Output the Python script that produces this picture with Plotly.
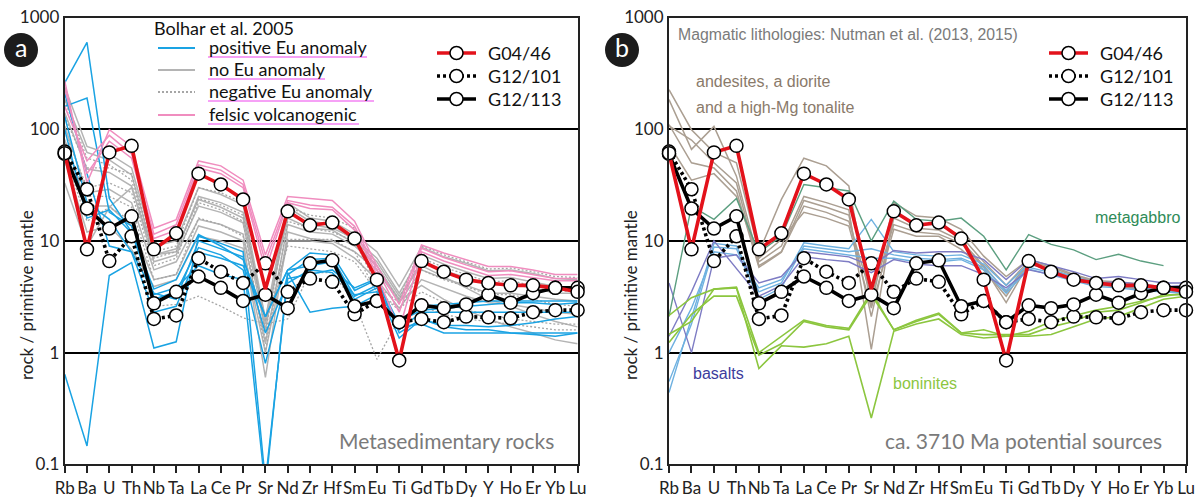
import plotly.graph_objects as go

# ---------------- data ----------------
ELEMENTS = ["Rb", "Ba", "U", "Th", "Nb", "Ta", "La", "Ce", "Pr", "Sr", "Nd", "Zr",
            "Hf", "Sm", "Eu", "Ti", "Gd", "Tb", "Dy", "Y", "Ho", "Er", "Yb", "Lu"]
Y_TICK_VALUES = [0.1, 1, 10, 100, 1000]
Y_TICK_LABELS = ["0.1", "1", "10", "100", "1000"]

G04_46 = [61, 8.4, 62, 71, 8.4, 11.7, 40, 32, 23.5, 3.7, 18.4, 13.8, 14.6, 10.5, 4.5, 0.85,
          6.6, 5.3, 4.5, 4.2, 4.0, 4.0, 3.8, 3.5]
G12_101 = [63, 29, 6.6, 11, 2.0, 2.15, 7.0, 5.3, 4.2, 6.3, 3.5, 4.6, 4.3, 2.2, 2.9, 1.87,
           2.0, 1.87, 2.1, 2.07, 2.03, 2.3, 2.4, 2.4]
G12_113 = [60, 19.5, 12.9, 16.6, 2.76, 3.5, 4.8, 3.8, 2.9, 3.3, 2.5, 6.3, 6.7, 2.6, 2.9, 1.87,
           2.65, 2.5, 2.7, 3.3, 2.8, 3.4, 3.8, 3.8]

# Bolhar et al. 2005 metasediments (panel a)
BOLHAR_POSITIVE_EU = [
    [260, 600, 24, 12, 3.7, 4.5, 11.4, 9, 6.8, 2.1, 5.5, 7.8, 7.5, 3.6, 4.5, 1.8, 2.6, 2.7, 2.8, 2.9, 2.9, 2.9, 2.9, 2.9],
    [160, 190, 18, 13.6, 3.0, 3.5, 8.7, 7.5, 5.5, 0.8, 5.0, 6.8, 7.0, 3.2, 4.0, 1.6, 2.3, 2.3, 2.3, 2.3, 2.3, 2.3, 2.3, 2.3],
    [0.64, 0.146, 4.9, 6.4, 1.1, 1.25, 11.0, 9.5, 8.0, 0.07, 4.6, 5.0, 5.5, 3.8, 4.6, 1.5, 2.0, 1.7, 1.6, 1.6, 1.5, 1.45, 1.4, 1.5],
    [130, 22, 15.6, 7.9, 2.3, 2.6, 7.9, 7.0, 6.0, 2.1, 5.5, 6.0, 6.5, 3.0, 3.8, 1.35, 2.0, 1.75, 1.75, 1.7, 1.75, 1.85, 2.0, 2.1],
    [100, 16, 19, 11.8, 3.3, 3.8, 6.0, 5.0, 4.5, 0.06, 5.2, 2.3, 2.5, 2.6, 3.3, 1.7, 1.8, 1.5, 1.5, 1.5, 1.5, 1.5, 1.5, 1.5],
    [210, 40, 9, 8, 3.4, 3.0, 10, 8.5, 7.2, 1.5, 4.2, 5.5, 5.2, 3.3, 3.5, 1.9, 2.4, 2.5, 2.6, 2.7, 2.8, 2.8, 2.7, 2.8],
]
BOLHAR_NO_EU = [
    [185, 62, 53, 39, 7.5, 8.5, 23.5, 20, 16, 2.0, 22, 16, 15, 11.5, 8.0, 3.9, 8.8, 7.2, 6.3, 5.4, 5.5, 5.1, 4.6, 4.5],
    [140, 44, 41, 31, 6.5, 7.5, 20.5, 18, 14.5, 1.6, 18, 14, 13, 10.5, 7.0, 3.4, 7.5, 6.2, 5.3, 4.6, 4.7, 4.3, 3.9, 3.8],
    [107, 27, 29, 22, 5.5, 6.5, 15.6, 14, 11.5, 1.2, 14, 12, 11.5, 9.0, 6.0, 3.0, 6.5, 5.4, 4.7, 4.0, 4.1, 3.8, 3.4, 3.4],
    [81, 20.5, 20.5, 13.6, 4.5, 5.0, 13.6, 12, 10, 0.6, 12, 10.5, 10, 8.0, 5.5, 2.8, 5.5, 4.6, 4.0, 3.4, 3.4, 3.2, 3.0, 2.9],
    [53, 12, 13.6, 8.4, 3.9, 4.5, 11, 10, 8.6, 1.0, 10, 10, 9.5, 7.0, 4.5, 2.5, 4.5, 3.8, 3.2, 2.8, 2.7, 2.5, 2.3, 2.2],
    [33, 9, 20, 30, 7.5, 8, 25, 22, 18, 1.8, 20, 15, 14, 10, 6.5, 3.2, 6.0, 4.8, 3.8, 3.0, 2.6, 2.2, 1.9, 1.7],
    [240, 70, 60, 45, 9, 10, 30, 26, 21, 2.0, 16, 13, 12.5, 9.5, 6.0, 2.9, 4.0, 3.0, 2.4, 2.0, 1.7, 1.5, 1.3, 1.2],
]
BOLHAR_NEGATIVE_EU = [
    [130, 45, 45, 40, 8, 9, 30, 27, 22, 1.5, 20, 17, 16, 13, 5.5, 3.0, 9.0, 7.5, 6.5, 5.6, 5.7, 5.3, 4.8, 4.7],
    [95, 30, 33, 27, 6, 7, 22, 19, 15, 1.0, 15, 13, 12, 10, 4.0, 2.8, 7.0, 5.8, 5.0, 4.3, 4.4, 4.0, 3.6, 3.5],
    [60, 15, 20, 15, 2.6, 2.7, 3.2, 2.6, 2.05, 1.8, 2.0, 5.2, 5.2, 2.8, 0.87, 2.0, 2.6, 2.2, 2.0, 1.9, 1.8, 1.7, 1.6, 1.6],
    [75, 25, 25, 20, 4.5, 5, 16, 14, 11, 1.3, 10.3, 10.3, 10.3, 8.0, 3.5, 2.4, 5.5, 4.5, 3.9, 3.3, 3.3, 3.0, 2.7, 2.6],
    [180, 55, 48, 35, 7, 8, 24, 21, 17, 1.9, 9, 8.5, 8, 6.5, 3.5, 2.5, 3.5, 2.8, 2.4, 2.2, 2.0, 1.9, 1.8, 1.8],
]
BOLHAR_FELSIC = [
    [270, 33, 99, 70, 13, 15.5, 52, 47, 35, 7.5, 25, 24, 23, 15, 6.0, 2.7, 9.2, 7.8, 6.8, 5.9, 5.9, 5.5, 5.0, 5.0],
    [160, 52, 88, 60, 11.5, 14, 48, 43, 32, 6.5, 23, 21, 20, 13.5, 5.5, 2.3, 8.6, 7.1, 6.1, 5.3, 5.4, 5.0, 4.6, 4.6],
    [230, 40, 78, 55, 10.5, 12.5, 45, 40, 30, 5.5, 22, 19.5, 19, 12.5, 5.0, 1.6, 8.0, 6.6, 5.7, 4.9, 5.0, 4.7, 4.4, 4.4],
]

# Nutman et al. (2013, 2015) magmatic lithologies (panel b)
NUTMAN_ANDESITES = [
    [226, 99, 62, 50, 7.9, 23.5, 55, 47, 31, 2.6, 22, 16.7, 16, 12.7, 7.3, 4.8, 6.8, 6.0, 5.0, 4.4, 4.3, 4.1, 3.8, 3.8],
    [184, 66, 106, 38, 6.5, 9, 25, 22, 19, 1.07, 18, 14, 14, 11, 6.5, 4.0, 6.6, 5.8, 4.9, 4.3, 4.1, 3.9, 3.7, 3.6],
    [107, 80, 50, 33, 6.0, 8, 23, 20, 17, 2.1, 16, 13, 12.5, 10, 6.0, 3.5, 6.5, 5.6, 4.7, 4.1, 4.0, 3.8, 3.6, 3.5],
    [110, 50, 45, 28, 5.8, 7.9, 20.5, 18, 15, 3.2, 14, 12, 11.5, 9.5, 5.8, 2.8, 6.3, 5.4, 4.6, 4.0, 3.9, 3.7, 3.5, 3.4],
    [73, 35, 40, 25, 7.0, 10.3, 18, 16, 13.6, 2.5, 12.7, 11, 11, 8.4, 5.5, 3.2, 6.4, 5.5, 4.7, 4.0, 3.9, 3.7, 3.6, 3.4],
]
NUTMAN_METAGABBRO = [
    [2.1, 20.5, 15.6, 24, 7.9, 11, 32, 30, 28, 10, 22.7, 15.6, 15, 16, 11, 5.5, 11.4, 9.3, 8.3, 6.8, 7.6, 6.6, 6.0, None],
]
NUTMAN_BASALTS_BLUE = [
    [0.44, 2.0, 9.5, 9.0, 3.5, 4.2, 9.6, 9.0, 8.5, 15.6, 8.0, 7.5, 7.3, 7.5, 6.2, 4.0, 6.2, 5.5, 4.8, 4.2, 4.2, 4.0, 3.8, 3.7],
    [0.55, 1.8, 8.8, 8.5, 3.0, 3.8, 9.0, 8.5, 8.0, 8.5, 7.5, 7.0, 6.8, 7.0, 5.8, 3.6, 5.8, 5.2, 4.6, 4.0, 4.0, 3.8, 3.6, 3.5],
    [1.0, 2.5, 8.0, 7.5, 3.8, 4.5, 8.5, 8.0, 7.5, 7.0, 7.0, 6.5, 6.5, 6.8, 5.5, 3.4, 5.6, 5.0, 4.4, 3.9, 3.8, 3.6, 3.5, 3.4],
]
NUTMAN_BASALTS_PURPLE = [
    [4.2, 1.0, 7.0, 7.5, 4.2, 4.8, 8.0, 7.6, 7.2, 6.0, 8.2, 7.8, 8.0, 8.0, 6.8, 4.5, 6.8, 6.0, 5.3, 4.6, 4.8, 4.5, 4.2, 4.2],
    [1.4, 3.5, 10, 5.6, 3.2, 4.0, 7.2, 6.8, 6.5, 5.2, 6.8, 6.2, 6.0, 6.0, 5.0, 3.8, 5.5, 5.0, 4.6, 4.2, 4.3, 4.1, 3.9, 4.0],
]
NUTMAN_BONINITES = [
    [2.15, 3.1, 3.7, 3.85, 1.0, 1.4, 1.95, 1.75, 1.65, 3.5, 1.6, 1.9, 2.2, 1.5, 1.6, 1.4, 1.55, 1.9, 2.15, 2.4, 2.6, 2.9, 3.2, 3.4],
    [1.23, 2.2, 3.2, 3.2, 0.95, 1.2, 1.9, 1.7, 1.6, 3.3, 1.6, 1.95, 2.25, 1.5, 1.45, 1.45, 1.45, 1.7, 1.9, 2.3, 2.4, 2.8, 3.3, 3.3],
    [1.46, 1.9, 3.7, 3.8, 0.72, 1.15, 1.12, 1.2, 1.4, 0.26, 1.55, 1.8, 2.0, 1.45, 1.35, 1.4, 1.4, 1.45, 1.7, 2.0, 2.1, 2.5, 3.0, 3.2],
]

# ---------------- styling ----------------
W, H = 1197, 499
RED = "#e3121b"
BLUE = "#1aa3e3"
GREY = "#b4b4b4"
GREY_DOT = "#a6a6a6"
PINK = "#f08dbf"
BROWN = "#ab9f92"
TEAL = "#5c9f80"
LBLUE = "#6fb1e0"
PURPLE = "#7e7cc4"
LIME = "#8cc63f"
FONT_M = "Lato, 'Open Sans', sans-serif"
FONT_A = "'Liberation Sans', Arial, sans-serif"


def px(x):
    return x / W


def py(y):
    return 1 - y / H


fig = go.Figure()


def add_group(rows, color, xa, ya, width=1.4, dash="solid"):
    for r in rows:
        fig.add_trace(go.Scatter(x=ELEMENTS, y=r, mode="lines", xaxis=xa, yaxis=ya,
                                 line=dict(color=color, width=width, dash=dash),
                                 hoverinfo="skip", showlegend=False))


def add_samples(xa, ya):
    red_opacity = [0 if e == "Sr" else 1 for e in ELEMENTS]
    specs = [
        (G12_101, "black", "3px,3px", [1] * len(ELEMENTS)),
        (G12_113, "black", "solid", [1] * len(ELEMENTS)),
        (G04_46, RED, "solid", red_opacity),
    ]
    for vals, color, dash, op in specs:
        fig.add_trace(go.Scatter(x=ELEMENTS, y=vals, mode="lines+markers", xaxis=xa, yaxis=ya,
                                 line=dict(color=color, width=3.6, dash=dash),
                                 marker=dict(size=13, color="white", opacity=op,
                                             line=dict(color="black", width=1.5)),
                                 cliponaxis=False, showlegend=False, hoverinfo="skip"))


# panel a
add_group(BOLHAR_NO_EU, GREY, "x", "y", 1.5)
add_group(BOLHAR_NEGATIVE_EU, GREY_DOT, "x", "y", 1.3, "2px,2px")
add_group(BOLHAR_POSITIVE_EU, BLUE, "x", "y", 1.5)
add_group(BOLHAR_FELSIC, PINK, "x", "y", 1.5)
add_samples("x", "y")

# panel b
add_group(NUTMAN_ANDESITES, BROWN, "x2", "y2", 1.5)
add_group(NUTMAN_BASALTS_BLUE, LBLUE, "x2", "y2", 1.4)
add_group(NUTMAN_BASALTS_PURPLE, PURPLE, "x2", "y2", 1.4)
add_group(NUTMAN_METAGABBRO, TEAL, "x2", "y2", 1.4)
add_group(NUTMAN_BONINITES, LIME, "x2", "y2", 1.6)
add_samples("x2", "y2")

xaxis_common = dict(type="category", range=[0, len(ELEMENTS) - 1], showgrid=False,
                    showline=True, linecolor="#222", linewidth=2, mirror=True,
                    ticks="outside", ticklen=7, tickwidth=1.5, tickcolor="#222",
                    tickangle=0, automargin=False,
                    tickfont=dict(family=FONT_M, size=17, color="#222"), zeroline=False)
yaxis_common = dict(type="log", range=[-1, 3], tickvals=Y_TICK_VALUES, ticktext=Y_TICK_LABELS,
                    showgrid=True, gridcolor="black", gridwidth=2,
                    showline=True, linecolor="#222", linewidth=2, mirror=True,
                    ticks="", automargin=False,
                    tickfont=dict(family=FONT_M, size=17, color="#222"),
                    zeroline=False)

ydom = [py(464.3), py(17.5)]
fig.update_layout(
    width=W, height=H, margin=dict(l=0, r=0, t=0, b=0),
    paper_bgcolor="white", plot_bgcolor="white",
    xaxis=dict(domain=[px(64.7), px(577.6)], anchor="y", **xaxis_common),
    yaxis=dict(domain=ydom, anchor="x", **yaxis_common),
    xaxis2=dict(domain=[px(669), px(1186)], anchor="y2", **xaxis_common),
    yaxis2=dict(domain=ydom, anchor="x2", **yaxis_common),
)

shapes = []
ann = []


def text(x, y, s, size, color, family=FONT_M, xanchor="left", angle=0):
    ann.append(dict(x=px(x), y=py(y), xref="paper", yref="paper", text=s, showarrow=False,
                    xanchor=xanchor, yanchor="middle", textangle=angle,
                    font=dict(family=family, size=size, color=color)))


def hline(x0, x1, y, color, width, dash="solid"):
    shapes.append(dict(type="line", xref="paper", yref="paper", x0=px(x0), x1=px(x1),
                       y0=py(y), y1=py(y), line=dict(color=color, width=width, dash=dash)))


def circle(cx, cy, d, fill, lw, lc="black"):
    shapes.append(dict(type="circle", xref="paper", yref="paper", xsizemode="pixel",
                       ysizemode="pixel", xanchor=px(cx), yanchor=py(cy),
                       x0=-d / 2, x1=d / 2, y0=-d / 2, y1=d / 2,
                       fillcolor=fill, line=dict(color=lc, width=lw)))


# panel badges
for cx, letter in [(21, "a"), (622, "b")]:
    circle(cx, 50, 34, "#1c1c1c", 0, "#1c1c1c")
    text(cx, 47, letter, 25, "white", FONT_M, "center")

# y axis titles
for x in (26, 630):
    text(x, 295, "rock / primitive mantle", 17, "#222", FONT_M, "center", -90)

# panel a legend (Bolhar)
text(152, 28, "Bolhar et al. 2005", 18, "#111")
bol = [(48, BLUE, "solid", "positive Eu anomaly", 367),
       (70, GREY, "solid", "no Eu anomaly", 325),
       (92, GREY_DOT, "2px,2px", "negative Eu anomaly", 374),
       (115, PINK, "solid", "felsic volcanogenic", 359)]
for y, c, d, s, uend in bol:
    hline(158, 195, y, c, 1.8, d)
    text(207, y - 1, s, 18, "#111")
    hline(208, uend, y + 9, "#ee44ee", 1.2)

# sample legends
for x0 in (437, 1049):
    for y, c, d in [(53, RED, "solid"), (76, "black", "3px,3px"), (99, "black", "solid")]:
        hline(x0, x0 + 39, y, c, 3.6, d)
        circle(x0 + 19.5, y, 13, "white", 1.5)
    text(x0 + 49, 53, "G04/46", 18, "#111")
    text(x0 + 49, 76, "G12/101", 18, "#111")
    text(x0 + 49, 99, "G12/113", 18, "#111")

# panel texts
text(337, 440, "Metasedimentary rocks", 21, "#7a7a7a")
text(883, 440, "ca. 3710 Ma potential sources", 21, "#7a7a7a")
text(676, 35, "Magmatic lithologies: Nutman et al. (2013, 2015)", 15.8, "#7a7a7a", FONT_A)
text(694, 82, "andesites, a diorite", 16, "#8a7a6a", FONT_A)
text(694, 107, "and a high-Mg tonalite", 16, "#8a7a6a", FONT_A)
text(1093, 217, "metagabbro", 16, "#2e8b57", FONT_A)
text(691, 373, "basalts", 16, "#3c3c9c", FONT_A)
text(891, 383, "boninites", 16, LIME, FONT_A)

fig.update_layout(shapes=shapes, annotations=ann)

fig.write_html("out.html", config={"displayModeBar": False},
               post_script="document.body.style.margin='0';")
